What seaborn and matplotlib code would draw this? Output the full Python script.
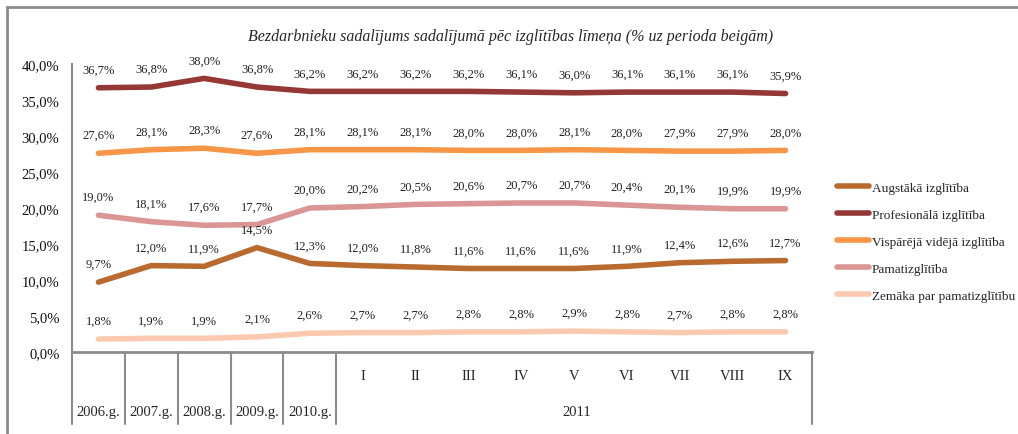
import matplotlib
matplotlib.use("Agg")
import matplotlib.pyplot as plt
import seaborn as sns
import pandas as pd
from matplotlib.patches import Rectangle
from matplotlib.lines import Line2D

sns.set_theme(style="white")
plt.rcParams['font.family'] = ['Liberation Serif', 'DejaVu Serif']

categories = ["2006.g.", "2007.g.", "2008.g.", "2009.g.", "2010.g.",
              "I", "II", "III", "IV", "V", "VI", "VII", "VIII", "IX"]
year_labels = ["2006.g.", "2007.g.", "2008.g.", "2009.g.", "2010.g."]
month_labels = ["I", "II", "III", "IV", "V", "VI", "VII", "VIII", "IX"]
group_label_2011 = "2011"

augstaka = [9.7, 12.0, 11.9, 14.5, 12.3, 12.0, 11.8, 11.6, 11.6, 11.6, 11.9, 12.4, 12.6, 12.7]
profesionala = [36.7, 36.8, 38.0, 36.8, 36.2, 36.2, 36.2, 36.2, 36.1, 36.0, 36.1, 36.1, 36.1, 35.9]
videja = [27.6, 28.1, 28.3, 27.6, 28.1, 28.1, 28.1, 28.0, 28.0, 28.1, 28.0, 27.9, 27.9, 28.0]
pamat = [19.0, 18.1, 17.6, 17.7, 20.0, 20.2, 20.5, 20.6, 20.7, 20.7, 20.4, 20.1, 19.9, 19.9]
zemaka = [1.8, 1.9, 1.9, 2.1, 2.6, 2.7, 2.7, 2.8, 2.8, 2.9, 2.8, 2.7, 2.8, 2.8]

series_names = ["Augstākā izglītība", "Profesionālā izglītība", "Vispārējā vidējā izglītība",
                "Pamatizglītība", "Zemāka par pamatizglītību"]
series_values = [augstaka, profesionala, videja, pamat, zemaka]
colors = ["#B96A2F", "#953735", "#F79646", "#D99694", "#FAC9B0"]

rows = []
for name, vals in zip(series_names, series_values):
    for i, v in enumerate(vals):
        rows.append({"x": i, "value": v, "series": name})
df = pd.DataFrame(rows)

fig = plt.figure(figsize=(10.18, 4.35), dpi=100)
ax = fig.add_axes([72/1018, 1-353/435, (812-72)/1018, 288/435])

sns.lineplot(data=df, x="x", y="value", hue="series", hue_order=series_names,
             palette=colors, linewidth=4, ax=ax, legend=False,
             solid_capstyle="round")

# data labels
for name, vals in zip(series_names, series_values):
    for i, v in enumerate(vals):
        ax.annotate(f"{v:.1f}%".replace(".", ","), (i, v), xytext=(0, 13),
                    textcoords="offset points", ha="center", va="center",
                    fontsize=9, color="#222222")

ax.set_xlim(-0.5, 13.5)
ax.set_ylim(0, 40)
ax.set_yticks(range(0, 41, 5))
ax.set_yticklabels([f"{t:.1f}%".replace(".", ",") for t in range(0, 41, 5)], fontsize=10.5)
ax.set_xticks([])
ax.set_xlabel("")
ax.set_ylabel("")
for s in ["top", "right"]:
    ax.spines[s].set_visible(False)
for s in ["left", "bottom"]:
    ax.spines[s].set_color("#8C8C8C")
ax.spines["bottom"].set_linewidth(2)
ax.spines["left"].set_linewidth(1.5)
ax.tick_params(axis="y", direction="out", length=5, width=1.5, color="#8C8C8C", pad=4, labelcolor="#111111")

trans = ax.get_xaxis_transform()
# vertical separators for two-level axis
for xv in [-0.5, 0.5, 1.5, 2.5, 3.5, 4.5, 13.5]:
    ax.plot([xv, xv], [0, -0.25], transform=trans, color="#8C8C8C", lw=1.5, clip_on=False)
for i, lab in enumerate(month_labels):
    ax.text(5 + i, -0.083, lab, transform=trans, ha="center", va="center", fontsize=10.5)
for i, lab in enumerate(year_labels):
    ax.text(i, -0.208, lab, transform=trans, ha="center", va="center", fontsize=10.5)
ax.text(9.05, -0.208, group_label_2011, transform=trans, ha="center", va="center", fontsize=10.5)

ax.set_title("Bezdarbnieku sadalījums sadalījumā pēc izglītības līmeņa (% uz perioda beigām)",
             fontsize=11.5, style="italic", x=0.593, y=1.0, pad=17)

# legend
handles = [Line2D([0], [0], color=c, lw=4, solid_capstyle="round") for c in colors]
fig.legend(handles, series_names, loc="upper left", bbox_to_anchor=(832/1018, 1-177/435),
           frameon=False, fontsize=9.5, handlelength=2.4, handletextpad=0.2, labelspacing=1.12,
           borderaxespad=0)

# outer frame
fig.patches.append(Rectangle((7/1018, -0.05), 1.2, 1-8/435 + 0.05, transform=fig.transFigure,
                             fill=False, edgecolor="#8C8C8C", lw=2))

fig.savefig("out.png", dpi=100)
